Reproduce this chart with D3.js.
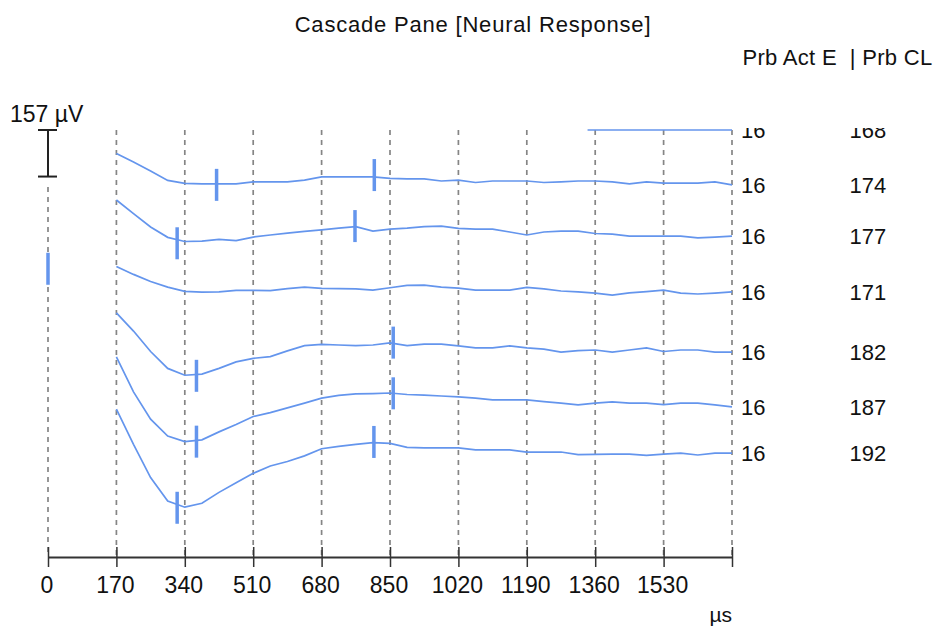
<!DOCTYPE html>
<html><head><meta charset="utf-8">
<script src="https://cdn.jsdelivr.net/npm/d3@7"></script>
<style>body{margin:0;background:#fff}svg{display:block}text{font-family:"Liberation Sans",Arial,sans-serif;fill:#111}</style>
</head><body><svg id="c" width="936" height="626"></svg>
<script>
// ---- data ----
const titleText = "Cascade Pane [Neural Response]";
const headerText = "Prb Act E  | Prb CL";
const xUnit = "µs";
const scaleBarValue = 157;              // µV
const scaleBarLabel = "157 µV";
const cascadeStep = 180;                // µV between stacked traces
const xTicks = [0, 170, 340, 510, 680, 850, 1020, 1190, 1360, 1530, 1700];
const probeActE = [16, 16, 16, 16, 16, 16, 16];
const probeCL = [168, 174, 177, 171, 182, 187, 192];

const times = [170, 212.5, 255, 297.5, 340, 382.5, 425, 467.5, 510, 552.5, 595, 637.5, 680, 722.5,
  765, 807.5, 850, 892.5, 935, 977.5, 1020, 1062.5, 1105, 1147.5, 1190, 1232.5, 1275, 1317.5,
  1360, 1402.5, 1445, 1487.5, 1530, 1572.5, 1615, 1657.5, 1700];

const trace168Times = [1341, 1700];
const trace168 = [0, 0];
const trace174 = [101, 72, 42, 10, 0, -2, -2, -2, 5, 5, 5, 11, 22, 22, 22, 22, 17, 15, 15, 8, 11, 3,
  8, 8, 8, 3, 5, 8, 8, 5, -2, 5, 1, 1, 1, 5, -5];
const trace177 = [124, 78, 33, -2, -16, -15, -9, -13, -1, 6, 12, 18, 23, 29, 34, 19, 26, 29, 34, 36,
  28, 26, 26, 16, 6, 16, 19, 19, 11, 9, 2, 2, 2, 2, -4, -1, 2];
const trace171 = [80, 53, 29, 10, -4, -7, -6, -1, -1, -2, 5, 10, 6, 5, 4, 0, 8, 16, 17, 10, 7, 0,
  0, 0, 9, 4, -3, -6, -10, -17, -9, -5, 0, -10, -13, -10, -6];
const trace182 = [103, 42, -27, -84, -107, -103, -84, -62, -50, -44, -25, -7, -3, -5, -7, -5, 2, -7,
  -2, -2, -8, -15, -15, -8, -15, -19, -29, -24, -22, -29, -22, -15, -27, -22, -22, -29, -29];
const trace187 = [135, 17, -75, -132, -151, -145, -118, -93, -66, -53, -37, -21, -4, 5, 10, 11, 13,
  8, 6, 3, 0, -4, -10, -10, -10, -16, -21, -27, -21, -17, -21, -21, -26, -21, -21, -27, -34];
const trace192 = [139, 20, -92, -171, -192, -179, -142, -110, -78, -53, -38, -19, 5, 13, 20, 26, 23,
  10, 8, 8, 8, 1, 1, 1, -6, -6, -6, -15, -14, -13, -13, -17, -13, -10, -16, -10, -10];

// latency markers: trace index, time (µs), level (µV)
const markerTrace = [1, 1, 2, 2, 4, 4, 5, 5, 6, 6, 3];
const markerTime  = [419, 811, 321, 763, 369, 858, 369, 858, 321, 810, 0];
const markerValue = [-5, 28, -22, 36, -109, 3, -151, 12, -194, 28, 72];

// ---- build ----
const traces = [
  trace168Times.map((t, i) => ({t, v: trace168[i]})),
  times.map((t, i) => ({t, v: trace174[i]})),
  times.map((t, i) => ({t, v: trace177[i]})),
  times.map((t, i) => ({t, v: trace171[i]})),
  times.map((t, i) => ({t, v: trace182[i]})),
  times.map((t, i) => ({t, v: trace187[i]})),
  times.map((t, i) => ({t, v: trace192[i]}))
];

const svg = d3.select("#c");
const x = d3.scaleLinear().domain([0, 1700]).range([48, 732]);
const y = d3.scaleLinear().domain([0, -8 * cascadeStep]).range([130, 557]);
const yOf = (i, v) => y(v - i * cascadeStep);
const blue = "#6495ed";

// title & header
svg.append("text").attr("x", 473).attr("y", 32).attr("text-anchor", "middle")
  .style("font-size", "22px").style("letter-spacing", "0.8px").text(titleText);
svg.append("text").attr("x", 742.5).attr("y", 65)
  .style("font-size", "22px").style("letter-spacing", "0.3px").style("white-space", "pre").text(headerText);

// grid
svg.append("g").selectAll("line").data(xTicks).join("line")
  .attr("x1", d => x(d)).attr("x2", d => x(d))
  .attr("y1", d => d === 0 ? 187 : y(0)).attr("y2", y(-8 * cascadeStep))
  .attr("stroke", "#858585").attr("stroke-width", 1.7).attr("stroke-dasharray", "5,5");

// scale bar
const sb = svg.append("g").attr("stroke", "#222").attr("stroke-width", 2);
sb.append("line").attr("x1", x(0)).attr("x2", x(0)).attr("y1", y(0)).attr("y2", y(-scaleBarValue));
sb.append("line").attr("x1", x(0) - 10).attr("x2", x(0) + 9).attr("y1", y(0)).attr("y2", y(0));
sb.append("line").attr("x1", x(0) - 10).attr("x2", x(0) + 9).attr("y1", y(-scaleBarValue)).attr("y2", y(-scaleBarValue));
svg.append("text").attr("x", 10).attr("y", 122).style("font-size", "23px").text(scaleBarLabel);

// clip for cascade
svg.append("clipPath").attr("id", "clipC").append("rect")
  .attr("x", 0).attr("y", 128).attr("width", 936).attr("height", 440);
const plot = svg.append("g").attr("clip-path", "url(#clipC)");

const line = d3.line().x(d => x(d.t));
plot.selectAll("path.trace").data(traces).join("path").attr("class", "trace")
  .attr("d", (d, i) => line.y(p => yOf(i, p.v))(d))
  .attr("fill", "none").attr("stroke", blue).attr("stroke-width", 1.7);

// markers
plot.selectAll("line.mk").data(markerTime.map((t, k) => ({t, i: markerTrace[k], v: markerValue[k]})))
  .join("line").attr("class", "mk")
  .attr("x1", d => x(d.t)).attr("x2", d => x(d.t))
  .attr("y1", d => yOf(d.i, d.v) - 16).attr("y2", d => yOf(d.i, d.v) + 16)
  .attr("stroke", blue).attr("stroke-width", 3.5);

// row labels at trace end levels
const ends = traces.map((tr, i) => yOf(i, tr[tr.length - 1].v));
plot.selectAll("text.ae").data(probeActE).join("text").attr("class", "ae")
  .attr("x", 741).attr("y", (d, i) => ends[i]).attr("dy", "0.36em")
  .style("font-size", "22px").text(d => d);
plot.selectAll("text.cl").data(probeCL).join("text").attr("class", "cl")
  .attr("x", 849.5).attr("y", (d, i) => ends[i]).attr("dy", "0.36em")
  .style("font-size", "22px").text(d => d);

// x axis
const ax = svg.append("g").attr("transform", `translate(0,${y(-8 * cascadeStep)})`)
  .call(d3.axisBottom(x).tickValues(xTicks).tickFormat(d => d === 1700 ? "" : d)
    .tickSize(10).tickSizeOuter(0).tickPadding(10));
ax.select(".domain").attr("stroke", "#333").attr("stroke-width", 2);
ax.selectAll(".tick line").attr("y1", -10).attr("stroke", "#333").attr("stroke-width", 1.5);
ax.selectAll(".tick text").attr("dx", -1.5).style("font-size", "23px")
  .style("font-family", '"Liberation Sans",Arial,sans-serif').attr("fill", "#111");
svg.append("text").attr("x", 732).attr("y", 622).attr("text-anchor", "end")
  .style("font-size", "21px").text(xUnit);
</script>
</body></html>
